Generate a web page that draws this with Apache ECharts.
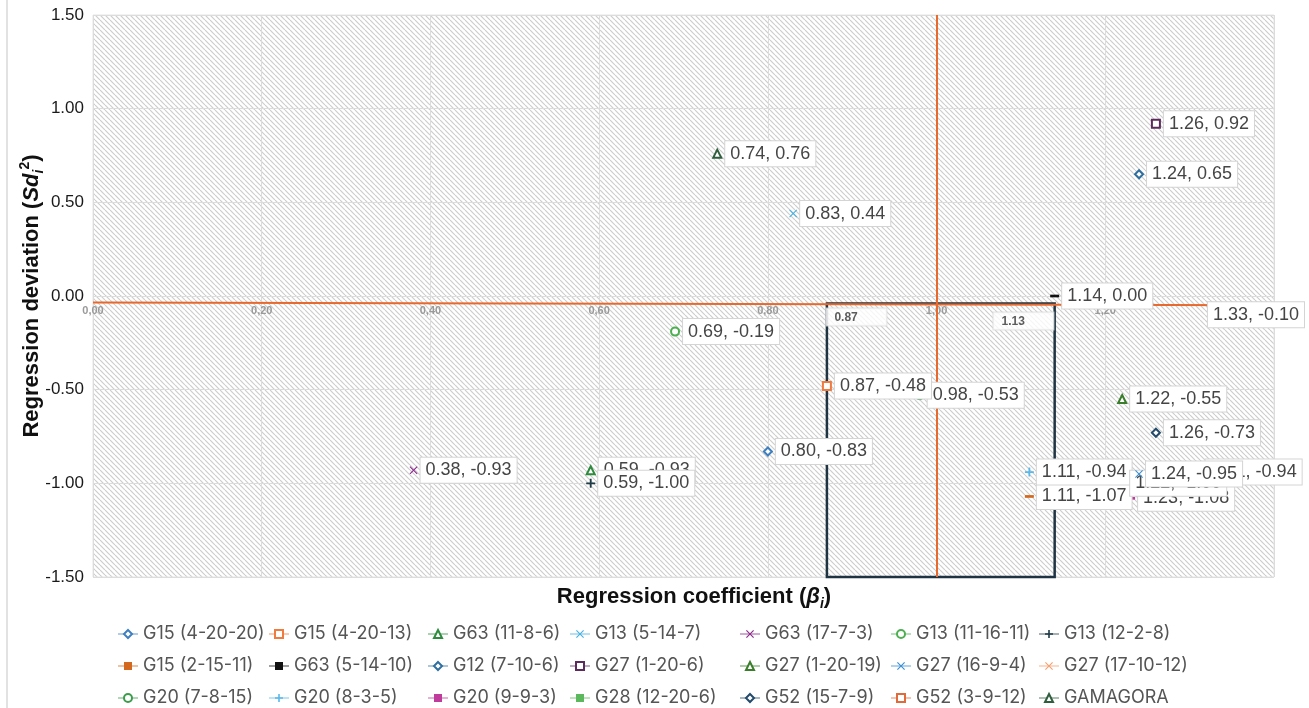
<!DOCTYPE html>
<html>
<head>
<meta charset="utf-8">
<title>Regression coefficient vs regression deviation</title>
<script src="https://cdn.jsdelivr.net/npm/echarts@6/dist/echarts.min.js"></script>
<style>
  html, body { margin: 0; padding: 0; background: #fff; }
  #chart { width: 1309px; height: 708px; }
</style>
</head>
<body>
<div id="chart"></div>
<script>
// genotypes, in legend order
const genotypes = [
  'G15 (4-20-20)', 'G15 (4-20-13)', 'G63 (11-8-6)', 'G13 (5-14-7)', 'G63 (17-7-3)', 'G13 (11-16-11)', 'G13 (12-2-8)',
  'G15 (2-15-11)', 'G63 (5-14-10)', 'G12 (7-10-6)', 'G27 (1-20-6)', 'G27 (1-20-19)', 'G27 (16-9-4)', 'G27 (17-10-12)',
  'G20 (7-8-15)', 'G20 (8-3-5)', 'G20 (9-9-3)', 'G28 (12-20-6)', 'G52 (15-7-9)', 'G52 (3-9-12)', 'GAMAGORA'
]
// regression coefficient (beta i)
const betaValues = [
  0.80, 0.87, 0.59, 0.83, 0.38, 0.69, 0.59,
  1.11, 1.14, 1.24, 1.26, 1.22, 1.24, 1.33,
  0.98, 1.11, 1.23, 1.31, 1.26, 1.22, 0.74
]
// regression deviation (Sdi2)
const sdValues = [
  -0.83, -0.48, -0.93, 0.44, -0.93, -0.19, -1.00,
  -1.07, 0.00, 0.65, 0.92, -0.55, -0.95, -0.10,
  -0.53, -0.94, -1.08, -0.94, -0.73, -1.00, 0.76
]
const xTicks = [0, 0.2, 0.4, 0.6, 0.8, 1.0, 1.2, 1.4]
const yTicks = [-1.5, -1.0, -0.5, 0, 0.5, 1.0, 1.5]

// reference lines and the stable-zone box
const meanBeta = 1.0
const meanLine = [[0, -0.035], [1.4, -0.05]]
const boxCorners = [[0.87, -0.04], [1.14, -1.5]]
const boxTags = ['0.87', '1.13']
const boxTagX = [0.905, 1.103]
const boxTagY = [-0.112, -0.133]

// marker styles
const X = 'path://M1,0L5,4L9,0L10,1L6,5L10,9L9,10L5,6L1,10L0,9L4,5L0,1Z'
const PLUS = 'path://M4,0H6V4H10V6H6V10H4V6H0V4H4Z'
const DASH = 'path://M0,0H10V3H0Z'
const shapes = [
  'emptyDiamond', 'emptyRect', 'emptyTriangle', X, X, 'emptyCircle', PLUS,
  DASH, DASH, 'emptyDiamond', 'emptyRect', 'emptyTriangle', X, X,
  'emptyCircle', PLUS, DASH, DASH, 'emptyDiamond', 'emptyRect', 'emptyTriangle'
]
const colors = [
  '#3f7fbf', '#f07b3f', '#2e8b3e', '#4ab0e0', '#8b2b8b', '#4caf50', '#1f3b46',
  '#d2691e', '#111111', '#2f6f9f', '#5c2a5c', '#3a7d2a', '#3a8fd0', '#f4a070',
  '#3c9c4c', '#5bb8e8', '#c03c9c', '#5cb85c', '#234a6a', '#e06a3a', '#2f5e3e'
]
// labels that sit on top of their neighbours
const raised = ['G15 (4-20-13)', 'G27 (16-9-4)']
// legend column positions (left edge of each column)
const legendCols = [117, 268, 427, 569, 739, 890, 1038]

const hatch = document.createElement('canvas')
hatch.width = 5
hatch.height = 5
const hctx = hatch.getContext('2d')
hctx.strokeStyle = '#cdcdcd'
hctx.lineWidth = 1.2
for (const k of [-5, 0, 5]) {
  hctx.beginPath()
  hctx.moveTo(k, 0)
  hctx.lineTo(k + 5, 5)
  hctx.stroke()
}

const symbolSizeOf = (shape) => {
  if (shape === DASH) return [9, 2.7]
  if (shape === PLUS) return 9
  return 8
}

const pointSeries = genotypes.map((name, i) => {
  const shape = shapes[i]
  const hollow = shape.startsWith('empty')
  return {
    name: name,
    type: 'line',
    data: [[betaValues[i], sdValues[i]]],
    showSymbol: true,
    symbol: shape,
    symbolSize: symbolSizeOf(shape),
    itemStyle: {
      color: colors[i],
      borderColor: colors[i],
      borderWidth: hollow ? 1.6 : 0
    },
    lineStyle: { color: colors[i], width: 1.5, opacity: 0.4 },
    label: {
      show: true,
      position: 'right',
      distance: 3,
      offset: name === 'G27 (17-10-12)' ? [-14, 0] : [0, 0],
      formatter: (p) => p.value[0].toFixed(2) + ', ' + p.value[1].toFixed(2),
      backgroundColor: '#fff',
      borderColor: '#d4d4d4',
      borderWidth: 1,
      padding: [4, 5, 3, 5],
      fontSize: 18,
      color: '#454545'
    },
    emphasis: { disabled: true },
    z: raised.includes(name) ? 6 : 5
  }
})

const helperSeries = {
  name: 'helper',
  type: 'scatter',
  symbolSize: 0,
  data: boxTags.map((t, i) => ({ name: t, value: [boxTagX[i], boxTagY[i]] })),
  label: {
    show: true,
    position: 'inside',
    formatter: (p) => '{a|' + p.name + '}',
    backgroundColor: '#fff',
    borderColor: '#dcdcdc',
    borderWidth: 1,
    padding: [3, 6, 2, 8],
    rich: {
      a: { width: 46, align: 'left', fontSize: 12, fontWeight: 'bold', color: '#333' }
    }
  },
  markLine: {
    silent: true,
    symbol: 'none',
    label: { show: false },
    lineStyle: { color: '#e8692e', width: 2, type: 'solid' },
    data: [
      [{ coord: [meanBeta, yTicks[0]] }, { coord: [meanBeta, yTicks[yTicks.length - 1]] }],
      [{ coord: meanLine[0] }, { coord: meanLine[1] }]
    ]
  },
  markArea: {
    silent: true,
    itemStyle: { color: 'rgba(0,0,0,0)', borderColor: '#1e3442', borderWidth: 2.5 },
    data: [[{ coord: boxCorners[0] }, { coord: boxCorners[1] }]]
  },
  emphasis: { disabled: true },
  z: 10
}

const legends = legendCols.map((x, c) => ({
  orient: 'vertical',
  left: x,
  top: 625,
  padding: 0,
  itemGap: 14,
  itemWidth: 20,
  itemHeight: 10,
  data: genotypes.filter((g, i) => i % 7 === c),
  textStyle: { fontSize: 18, color: '#555', fontFamily: 'Inter' }
}))

const chart = echarts.init(document.getElementById('chart'), null, { renderer: 'canvas' })
chart.setOption({
  animation: false,
  backgroundColor: '#fff',
  textStyle: { fontFamily: '"Liberation Sans", Arial, sans-serif' },
  title: {
    text: '{b|Regression coefficient (}{g|β}{s|i}{b|)}',
    left: 694,
    top: 583,
    textAlign: 'center',
    padding: 0,
    textStyle: {
      rich: {
        b: { fontSize: 22, fontWeight: 'bold', color: '#111', lineHeight: 28 },
        g: { fontSize: 22, fontWeight: 'bold', fontStyle: 'italic', color: '#111', lineHeight: 28 },
        s: { fontSize: 14, fontWeight: 'bold', fontStyle: 'italic', color: '#111', lineHeight: 28, verticalAlign: 'bottom' }
      }
    }
  },
  grid: {
    left: 93,
    right: 35,
    top: 15,
    bottom: 131,
    containLabel: false,
    outerBoundsMode: 'none',
    show: true,
    backgroundColor: { image: hatch, repeat: 'repeat' },
    borderColor: '#e4e4e4',
    borderWidth: 1
  },
  graphic: [{
    type: 'line',
    shape: { x1: 7, y1: 0, x2: 7, y2: 708 },
    style: { stroke: '#e2e2e2', lineWidth: 2 },
    silent: true
  }],
  legend: legends,
  xAxis: {
    type: 'value',
    min: xTicks[0],
    max: xTicks[xTicks.length - 1],
    interval: 0.2,
    position: 'bottom',
    // the axis sits on the zero line of the deviation axis
    offset: -281,
    axisLine: { show: false, onZero: false },
    axisTick: { show: false },
    axisLabel: {
      fontSize: 11,
      fontWeight: 'bold',
      color: '#9a9a9a',
      margin: 9,
      formatter: (v) => v.toFixed(2).replace('.', ',')
    },
    splitLine: { show: true, lineStyle: { color: '#dcdcdc', width: 1 } }
  },
  yAxis: {
    type: 'value',
    min: yTicks[0],
    max: yTicks[yTicks.length - 1],
    interval: 0.5,
    axisLine: { show: false, onZero: false },
    axisTick: { show: false },
    axisLabel: {
      fontSize: 17,
      color: '#1a1a1a',
      margin: 9,
      formatter: (v) => v.toFixed(2)
    },
    splitLine: { show: true, lineStyle: { color: '#dcdcdc', width: 1 } },
    name: '{b|Regression deviation (}{g|Sd}{s|i}{p|2}{b|)}',
    nameLocation: 'middle',
    nameGap: 47,
    nameMoveOverlap: false,
    nameTextStyle: {
      rich: {
        b: { fontSize: 22, fontWeight: 'bold', color: '#111', lineHeight: 28 },
        g: { fontSize: 22, fontWeight: 'bold', fontStyle: 'italic', color: '#111', lineHeight: 28 },
        s: { fontSize: 14, fontWeight: 'bold', fontStyle: 'italic', color: '#111', lineHeight: 28, verticalAlign: 'bottom' },
        p: { fontSize: 14, fontWeight: 'bold', color: '#111', lineHeight: 28, verticalAlign: 'top' }
      }
    }
  },
  series: [helperSeries].concat(pointSeries)
})
</script>
</body>
</html>
